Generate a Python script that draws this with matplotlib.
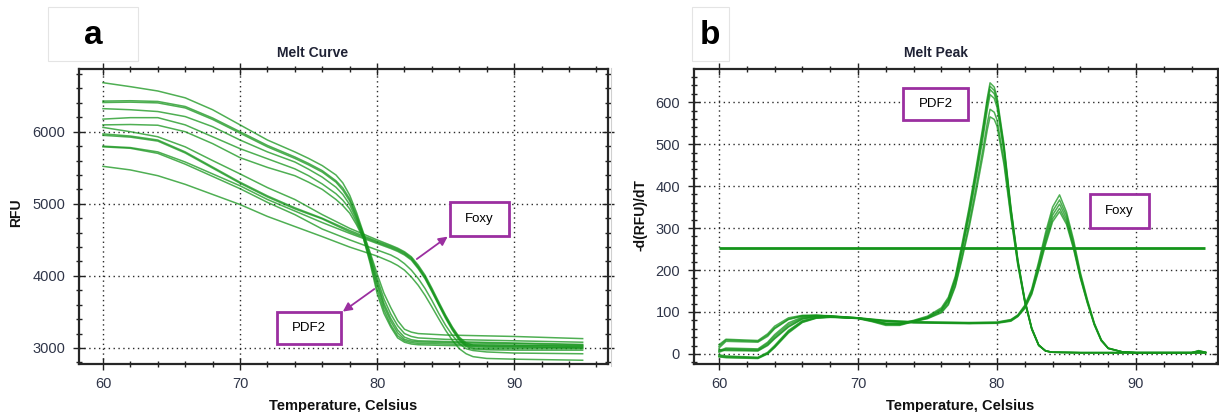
import matplotlib

matplotlib.use("Agg")
import matplotlib.pyplot as plt
from matplotlib import patches
from matplotlib.lines import Line2D
from matplotlib.ticker import MultipleLocator

plt.rcParams["font.family"] = ["Liberation Sans", "DejaVu Sans"]

GREEN = "#14941a"
PURPLE = "#9b2fa0"
TICK_COLOR = "#2f3548"

# ---- panel a: melt curve (RFU) ----
temp_pdf2_a = [60, 62, 64, 66, 68, 70, 72, 74, 75, 76, 77, 77.5, 78, 78.5, 79, 79.5, 80, 80.5, 81, 81.5,
               82, 82.5, 83, 85, 90, 95]
rfu_pdf2 = [
    [6680, 6625, 6565, 6470, 6305, 6095, 5885, 5720, 5630, 5530, 5400, 5290, 5120, 4880, 4600, 4320, 4030, 3760, 3560, 3380, 3260, 3220, 3200, 3180, 3160, 3130],
    [6425, 6430, 6420, 6350, 6190, 6000, 5810, 5650, 5560, 5460, 5320, 5220, 5070, 4840, 4580, 4290, 3970, 3680, 3470, 3310, 3200, 3160, 3140, 3120, 3100, 3080],
    [6405, 6410, 6400, 6330, 6170, 5980, 5790, 5630, 5540, 5440, 5300, 5190, 5040, 4810, 4565, 4260, 3920, 3620, 3410, 3250, 3150, 3115, 3100, 3090, 3070, 3050],
    [6320, 6305, 6280, 6210, 6070, 5885, 5720, 5580, 5480, 5370, 5230, 5130, 4990, 4780, 4550, 4230, 3880, 3580, 3370, 3210, 3120, 3095, 3085, 3075, 3060, 3040],
    [6175, 6195, 6195, 6095, 5930, 5765, 5625, 5485, 5390, 5275, 5140, 5050, 4930, 4745, 4535, 4200, 3820, 3530, 3320, 3170, 3100, 3075, 3065, 3055, 3040, 3020],
    [6095, 6100, 6090, 6000, 5835, 5640, 5505, 5390, 5300, 5200, 5060, 4975, 4870, 4710, 4520, 4170, 3760, 3480, 3290, 3140, 3080, 3055, 3045, 3035, 3020, 3000],
]

temp_foxy_a = [60, 62, 64, 66, 68, 70, 72, 74, 76, 78, 80, 81, 81.5, 82, 82.5, 83, 83.5, 84, 84.5, 85, 85.5,
               86, 86.5, 87, 88, 90, 95]
rfu_foxy = [
    [6060, 6000, 5930, 5790, 5600, 5415, 5225, 5060, 4850, 4660, 4500, 4425, 4385, 4335, 4265, 4150, 4010, 3830, 3640, 3455, 3290, 3150, 3070, 3040, 3030, 3030, 3030],
    [5970, 5940, 5885, 5720, 5510, 5300, 5110, 4945, 4800, 4630, 4480, 4410, 4370, 4320, 4250, 4130, 3990, 3810, 3620, 3440, 3275, 3135, 3050, 3020, 3010, 3010, 3010],
    [5950, 5925, 5870, 5705, 5495, 5285, 5095, 4930, 4790, 4610, 4465, 4395, 4355, 4305, 4235, 4115, 3975, 3795, 3605, 3425, 3260, 3120, 3035, 3000, 2990, 2990, 2990],
    [5800, 5780, 5720, 5580, 5415, 5250, 5060, 4900, 4740, 4590, 4450, 4380, 4340, 4290, 4220, 4100, 3960, 3780, 3595, 3410, 3245, 3105, 3020, 2985, 2975, 2970, 2970],
    [5790, 5770, 5700, 5550, 5380, 5210, 5020, 4850, 4650, 4500, 4360, 4290, 4240, 4170, 4080, 3965, 3825, 3660, 3480, 3315, 3175, 3060, 2990, 2965, 2945, 2930, 2920],
    [5520, 5470, 5390, 5270, 5130, 4990, 4825, 4685, 4545, 4400, 4275, 4195, 4145, 4080, 3985, 3870, 3730, 3570, 3405, 3245, 3105, 2990, 2920, 2880, 2855, 2845, 2830],
]

# ---- panel b: melt peak (-dRFU/dT) ----
temp_pdf2_b = [60, 60.5, 62.8, 63.5, 64, 65, 66, 67, 68, 70, 71, 72, 73, 74, 75, 76, 76.5, 77, 77.5, 78, 78.5,
               79, 79.3, 79.5, 79.8, 80, 80.5, 81, 81.5, 82, 82.5, 83, 83.5, 84, 86, 90, 95]
deriv_pdf2 = [
    [18, 33, 30, 45, 62, 83, 91, 92, 91, 86, 80, 72, 72, 80, 90, 110, 135, 185, 265, 350, 445, 545, 610, 646, 636, 612, 500, 350, 225, 130, 62, 22, 7, 4, 3, 3, 3],
    [14, 30, 28, 42, 60, 82, 90, 92, 90, 85, 79, 74, 73, 79, 88, 107, 131, 180, 258, 343, 437, 536, 602, 638, 628, 605, 494, 346, 222, 128, 61, 21, 7, 4, 3, 3, 3],
    [6, 12, 10, 25, 42, 70, 86, 90, 89, 85, 78, 70, 70, 78, 87, 105, 128, 176, 253, 336, 430, 528, 594, 630, 620, 598, 489, 343, 220, 127, 60, 21, 7, 4, 3, 3, 3],
    [4, 10, 8, 22, 38, 66, 84, 89, 89, 84, 77, 68, 68, 77, 86, 103, 125, 172, 247, 328, 420, 517, 582, 618, 609, 588, 482, 339, 218, 126, 60, 21, 7, 4, 3, 3, 3],
    [-4, -6, -9, 2, 18, 54, 78, 86, 88, 86, 80, 72, 71, 78, 85, 100, 120, 164, 234, 311, 398, 490, 550, 583, 576, 558, 462, 330, 214, 124, 59, 20, 7, 4, 3, 3, 3],
    [-7, -9, -11, 0, 15, 50, 75, 85, 87, 85, 79, 71, 70, 77, 84, 98, 117, 160, 228, 302, 386, 475, 534, 565, 559, 543, 452, 325, 211, 123, 58, 20, 7, 4, 3, 3, 3],
]

temp_foxy_b = [60, 60.5, 62.8, 63.5, 64, 65, 66, 67, 68, 70, 72, 74, 76, 78, 80, 81, 81.5, 82, 82.5, 83, 83.5,
               84, 84.5, 85, 85.5, 86, 86.5, 87, 87.5, 88, 89, 90, 94, 94.5, 95]
deriv_foxy = [
    [22, 35, 32, 48, 66, 86, 92, 92, 90, 86, 80, 77, 76, 75, 76, 82, 93, 116, 155, 220, 290, 350, 379, 338, 273, 194, 130, 74, 34, 14, 5, 3, 3, 8, 4],
    [8, 14, 12, 28, 46, 74, 88, 91, 90, 86, 79, 76, 75, 74, 75, 81, 92, 114, 151, 214, 282, 340, 367, 330, 266, 189, 127, 72, 33, 14, 5, 3, 3, 7, 4],
    [10, 8, 7, 20, 36, 64, 83, 89, 89, 85, 78, 75, 74, 73, 74, 80, 91, 112, 148, 208, 274, 331, 357, 322, 260, 185, 125, 71, 33, 13, 5, 3, 3, 7, 4],
    [-2, -5, -8, 4, 20, 56, 79, 87, 88, 85, 78, 75, 74, 73, 74, 79, 90, 110, 145, 203, 267, 322, 347, 315, 255, 182, 123, 70, 32, 13, 5, 3, 3, 6, 3],
    [-6, -8, -10, 1, 16, 52, 76, 86, 88, 85, 78, 74, 73, 72, 73, 78, 89, 108, 142, 199, 261, 315, 339, 309, 251, 180, 121, 69, 31, 13, 5, 3, 3, 6, 3],
]

threshold = 253
threshold_span = (60, 95)


def style_axes(ax, ymajor, yminor):
    ax.xaxis.set_major_locator(MultipleLocator(10))
    ax.xaxis.set_minor_locator(MultipleLocator(2))
    ax.yaxis.set_major_locator(MultipleLocator(ymajor))
    ax.yaxis.set_minor_locator(MultipleLocator(yminor))
    ax.tick_params(which="both", direction="inout", top=True, right=True,
                   width=1.0, color="#222222", labelcolor=TICK_COLOR, labelsize=10.5)
    ax.tick_params(which="major", length=8)
    ax.tick_params(which="minor", length=5)
    ax.tick_params(axis="x", pad=5.5)
    ax.tick_params(axis="y", pad=6)
    ax.grid(True, which="major", linestyle=(0, (1, 2.5)), color="#2a2a2a", linewidth=1.0)
    ax.set_axisbelow(True)
    for sp in ax.spines.values():
        sp.set_linewidth(1.6)
        sp.set_color("#262626")


def label_box(ax, x0, x1, y0, y1, text):
    rect = patches.Rectangle((x0, y0), x1 - x0, y1 - y0, facecolor="white",
                             edgecolor=PURPLE, linewidth=2.0, zorder=5)
    ax.add_patch(rect)
    ax.text((x0 + x1) / 2, (y0 + y1) / 2, text, ha="center", va="center",
            fontsize=9.5, color="black", zorder=6)


fig = plt.figure(figsize=(12.19, 4.12), dpi=100)
fig.patch.set_facecolor("white")

ax_a = fig.add_axes([79 / 1219, 48 / 412, 529 / 1219, 295 / 412])
ax_b = fig.add_axes([694 / 1219, 48 / 412, 524 / 1219, 295 / 412])

# panel a
for rfu in rfu_pdf2:
    ax_a.plot(temp_pdf2_a, rfu, color=GREEN, lw=1.1, alpha=0.75)
for rfu in rfu_foxy:
    ax_a.plot(temp_foxy_a, rfu, color=GREEN, lw=1.1, alpha=0.75)
ax_a.set_xlim(58.25, 96.85)
ax_a.set_ylim(2778, 6870)
style_axes(ax_a, 1000, 200)

label_box(ax_a, 85.33, 89.64, 4553, 5025, "Foxy")
label_box(ax_a, 72.70, 77.37, 3055, 3499, "PDF2")
arrow = dict(arrowstyle="-|>", color=PURPLE, lw=1.3, mutation_scale=13, shrinkA=0, shrinkB=0)
ax_a.annotate("", xy=(85.15, 4545), xytext=(82.9, 4234), arrowprops=arrow)
ax_a.annotate("", xy=(77.5, 3505), xytext=(79.8, 3818), arrowprops=arrow)

# panel b
for d in deriv_pdf2:
    ax_b.plot(temp_pdf2_b, d, color=GREEN, lw=1.1, alpha=0.75)
for d in deriv_foxy:
    ax_b.plot(temp_foxy_b, d, color=GREEN, lw=1.1, alpha=0.75)
ax_b.hlines(threshold, *threshold_span, color=GREEN, lw=2.0)
ax_b.set_xlim(58.2, 95.9)
ax_b.set_ylim(-24, 679)
style_axes(ax_b, 100, 20)

label_box(ax_b, 73.24, 77.91, 557, 633, "PDF2")
label_box(ax_b, 86.69, 90.94, 300, 381, "Foxy")

# titles and axis labels
fig.text(313 / 1219, 1 - 53 / 412, "Melt Curve", ha="center", va="center",
         fontsize=10, weight="bold", color="#1f2235")
fig.text(936 / 1219, 1 - 53 / 412, "Melt Peak", ha="center", va="center",
         fontsize=10, weight="bold", color="#1f2235")
fig.text(16 / 1219, 1 - 213 / 412, "RFU", rotation=90, ha="center", va="center",
         fontsize=10, weight="bold", color="#111111")
fig.text(640 / 1219, 1 - 215 / 412, "-d(RFU)/dT", rotation=90, ha="center", va="center",
         fontsize=10, weight="bold", color="#111111")
fig.text(343 / 1219, 1 - 399 / 412, "Temperature, Celsius", ha="center", va="top",
         fontsize=10.5, weight="bold", color="#111111")
fig.text(960 / 1219, 1 - 399 / 412, "Temperature, Celsius", ha="center", va="top",
         fontsize=10.5, weight="bold", color="#111111")

# panel letters in faint boxes
for (x0, x1, letter) in [(48, 138, "a"), (692, 729, "b")]:
    fig.add_artist(patches.Rectangle((x0 / 1219, 1 - 61 / 412), (x1 - x0) / 1219, 54 / 412,
                                     transform=fig.transFigure, facecolor="none",
                                     edgecolor="#e4e4e4", linewidth=0.8))
fig.text(93 / 1219, 1 - 36 / 412, "a", ha="center", va="center", fontsize=24, weight="bold")
fig.text(710 / 1219, 1 - 36 / 412, "b", ha="center", va="center", fontsize=24, weight="bold")

# faint separator between the two screenshots
fig.add_artist(Line2D([611 / 1219, 611 / 1219], [1 - 366 / 412, 1 - 68 / 412],
                      transform=fig.transFigure, color="#d0d0d0", lw=0.8))

fig.savefig("out.png", dpi=100)
